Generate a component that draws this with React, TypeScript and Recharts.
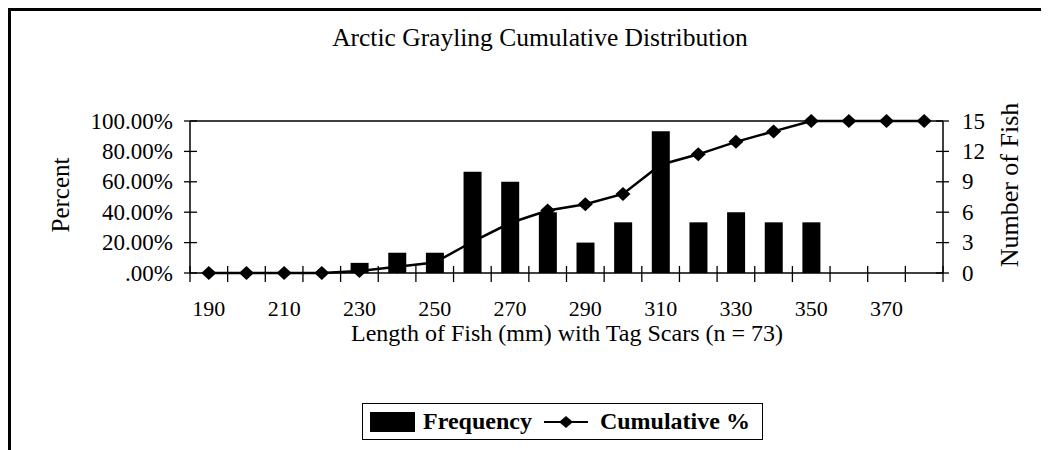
import React from "react"
import {
  ComposedChart,
  Bar,
  Line,
  XAxis,
  YAxis,
  Legend,
  Label,
  ReferenceLine,
} from "recharts"

const LENGTHS = [
  "190", "200", "210", "220", "230", "240", "250", "260", "270", "280",
  "290", "300", "310", "320", "330", "340", "350", "360", "370", "380",
]
const FREQUENCY = [0, 0, 0, 0, 1, 2, 2, 10, 9, 6, 3, 5, 14, 5, 6, 5, 5, 0, 0, 0]
const CUMULATIVE_PCT = [
  0, 0, 0, 0, 1.37, 4.11, 6.85, 20.55, 32.88, 41.1,
  45.21, 52.05, 71.23, 78.08, 86.3, 93.15, 100, 100, 100, 100,
]
const PCT_TICKS = [0, 20, 40, 60, 80, 100]
const FISH_TICKS = [0, 3, 6, 9, 12, 15]

const data = LENGTHS.map((length, i) => ({
  length,
  frequency: FREQUENCY[i],
  cumulative: CUMULATIVE_PCT[i],
}))

const FONT = "'Liberation Serif', 'Times New Roman', serif"
const W = 1038
const H = 439
// plot box (chart coords)
const PLOT_LEFT = 179
const PLOT_RIGHT = 932
const PLOT_BOTTOM = 262
const BAND = (PLOT_RIGHT - PLOT_LEFT) / LENGTHS.length

const fmtPct = (v: number) => (v === 0 ? ".00%" : `${v.toFixed(2)}%`)

function XTick(props: any) {
  const { x, index, payload } = props
  const last = index === LENGTHS.length - 1
  return (
    <g>
      <line x1={x - BAND / 2} x2={x - BAND / 2} y1={PLOT_BOTTOM - 7} y2={PLOT_BOTTOM + 9} stroke="#000" strokeWidth={1.3} />
      {last && (
        <line x1={x + BAND / 2} x2={x + BAND / 2} y1={PLOT_BOTTOM - 7} y2={PLOT_BOTTOM + 9} stroke="#000" strokeWidth={1.3} />
      )}
      {index % 2 === 0 && (
        <text x={x} y={PLOT_BOTTOM + 35} textAnchor="middle" dominantBaseline="central" fontFamily={FONT} fontSize={22} fill="#000">
          {payload.value}
        </text>
      )}
    </g>
  )
}

function LeftTick(props: any) {
  const { y, payload } = props
  return (
    <g>
      <line x1={PLOT_LEFT - 6} x2={PLOT_LEFT + 7} y1={y} y2={y} stroke="#000" strokeWidth={1.3} />
      <text x={PLOT_LEFT - 17} y={y} textAnchor="end" dominantBaseline="central" fontFamily={FONT} fontSize={23} fill="#000">
        {fmtPct(payload.value)}
      </text>
    </g>
  )
}

function RightTick(props: any) {
  const { y, payload } = props
  return (
    <g>
      <line x1={PLOT_RIGHT - 7} x2={PLOT_RIGHT + 6} y1={y} y2={y} stroke="#000" strokeWidth={1.3} />
      <text x={PLOT_RIGHT + 19} y={y} textAnchor="start" dominantBaseline="central" fontFamily={FONT} fontSize={23} fill="#000">
        {payload.value}
      </text>
    </g>
  )
}

function Diamond(props: any) {
  const { cx, cy, index } = props
  if (cx == null || cy == null) return <g key={index} />
  return (
    <polygon
      key={index}
      points={`${cx - 7.5},${cy} ${cx},${cy - 7} ${cx + 7.5},${cy} ${cx},${cy + 7}`}
      fill="#000"
    />
  )
}

function LegendBox() {
  return (
    <div
      style={{
        boxSizing: "border-box",
        width: 401,
        height: 37,
        border: "1.5px solid #000",
        display: "flex",
        alignItems: "center",
        fontFamily: FONT,
        fontWeight: "bold",
        fontSize: 24,
        color: "#000",
        background: "#fff",
      }}
    >
      <span style={{ display: "inline-block", width: 45, height: 20, background: "#000", marginLeft: 7 }} />
      <span style={{ marginLeft: 8 }}>Frequency</span>
      <svg width={44} height={14} style={{ marginLeft: 12 }}>
        <line x1={0} x2={44} y1={7} y2={7} stroke="#000" strokeWidth={2} />
        <polygon points="15,7 22,1 29,7 22,13" fill="#000" />
      </svg>
      <span style={{ marginLeft: 12 }}>Cumulative %</span>
    </div>
  )
}

export default function App() {
  return (
    <div
      style={{
        position: "relative",
        width: W,
        height: H,
        borderTop: "3px solid #000",
        borderLeft: "3px solid #000",
        background: "#fff",
      }}
    >
      <div
        style={{
          position: "absolute",
          left: 279,
          top: 12,
          width: 500,
          lineHeight: "30px",
          textAlign: "center",
          fontFamily: FONT,
          fontSize: 25.5,
          color: "#000",
        }}
      >
        Arctic Grayling Cumulative Distribution
      </div>
      <ComposedChart
        width={W}
        height={H}
        data={data}
        margin={{ top: 110, right: 26, bottom: 127, left: 79 }}
      >
        <XAxis
          dataKey="length"
          height={50}
          interval={0}
          axisLine={{ stroke: "#000", strokeWidth: 1.5 }}
          tickLine={false}
          tick={<XTick />}
        >
          <Label
            content={() => (
              <text x={556} y={322} textAnchor="middle" dominantBaseline="central" fontFamily={FONT} fontSize={24} fill="#000">
                Length of Fish (mm) with Tag Scars (n = 73)
              </text>
            )}
          />
        </XAxis>
        <YAxis
          yAxisId="left"
          orientation="left"
          width={100}
          domain={[0, 100]}
          ticks={PCT_TICKS}
          interval={0}
          axisLine={{ stroke: "#000", strokeWidth: 1.5 }}
          tickLine={false}
          tick={<LeftTick />}
        >
          <Label
            content={() => (
              <text x={49} y={184} transform="rotate(-90 49 184)" textAnchor="middle" dominantBaseline="central" fontFamily={FONT} fontSize={25} fill="#000">
                Percent
              </text>
            )}
          />
        </YAxis>
        <YAxis
          yAxisId="right"
          orientation="right"
          width={80}
          domain={[0, 15]}
          ticks={FISH_TICKS}
          interval={0}
          axisLine={{ stroke: "#000", strokeWidth: 1.5 }}
          tickLine={false}
          tick={<RightTick />}
        >
          <Label
            content={() => (
              <text x={998} y={174} transform="rotate(-90 998 174)" textAnchor="middle" dominantBaseline="central" fontFamily={FONT} fontSize={26} fill="#000">
                Number of Fish
              </text>
            )}
          />
        </YAxis>
        <ReferenceLine yAxisId="left" y={100} stroke="#000" strokeWidth={1.5} />
        <Bar
          yAxisId="right"
          dataKey="frequency"
          name="Frequency"
          fill="#000"
          barSize={18}
          isAnimationActive={false}
        />
        <Line
          yAxisId="left"
          type="linear"
          dataKey="cumulative"
          name="Cumulative %"
          stroke="#000"
          strokeWidth={2.5}
          dot={Diamond}
          activeDot={false}
          isAnimationActive={false}
        />
        <Legend
          layout="horizontal"
          verticalAlign="middle"
          align="center"
          wrapperStyle={{ left: 351, top: 392, width: 401, height: 37 }}
          content={() => <LegendBox />}
        />
      </ComposedChart>
    </div>
  )
}
